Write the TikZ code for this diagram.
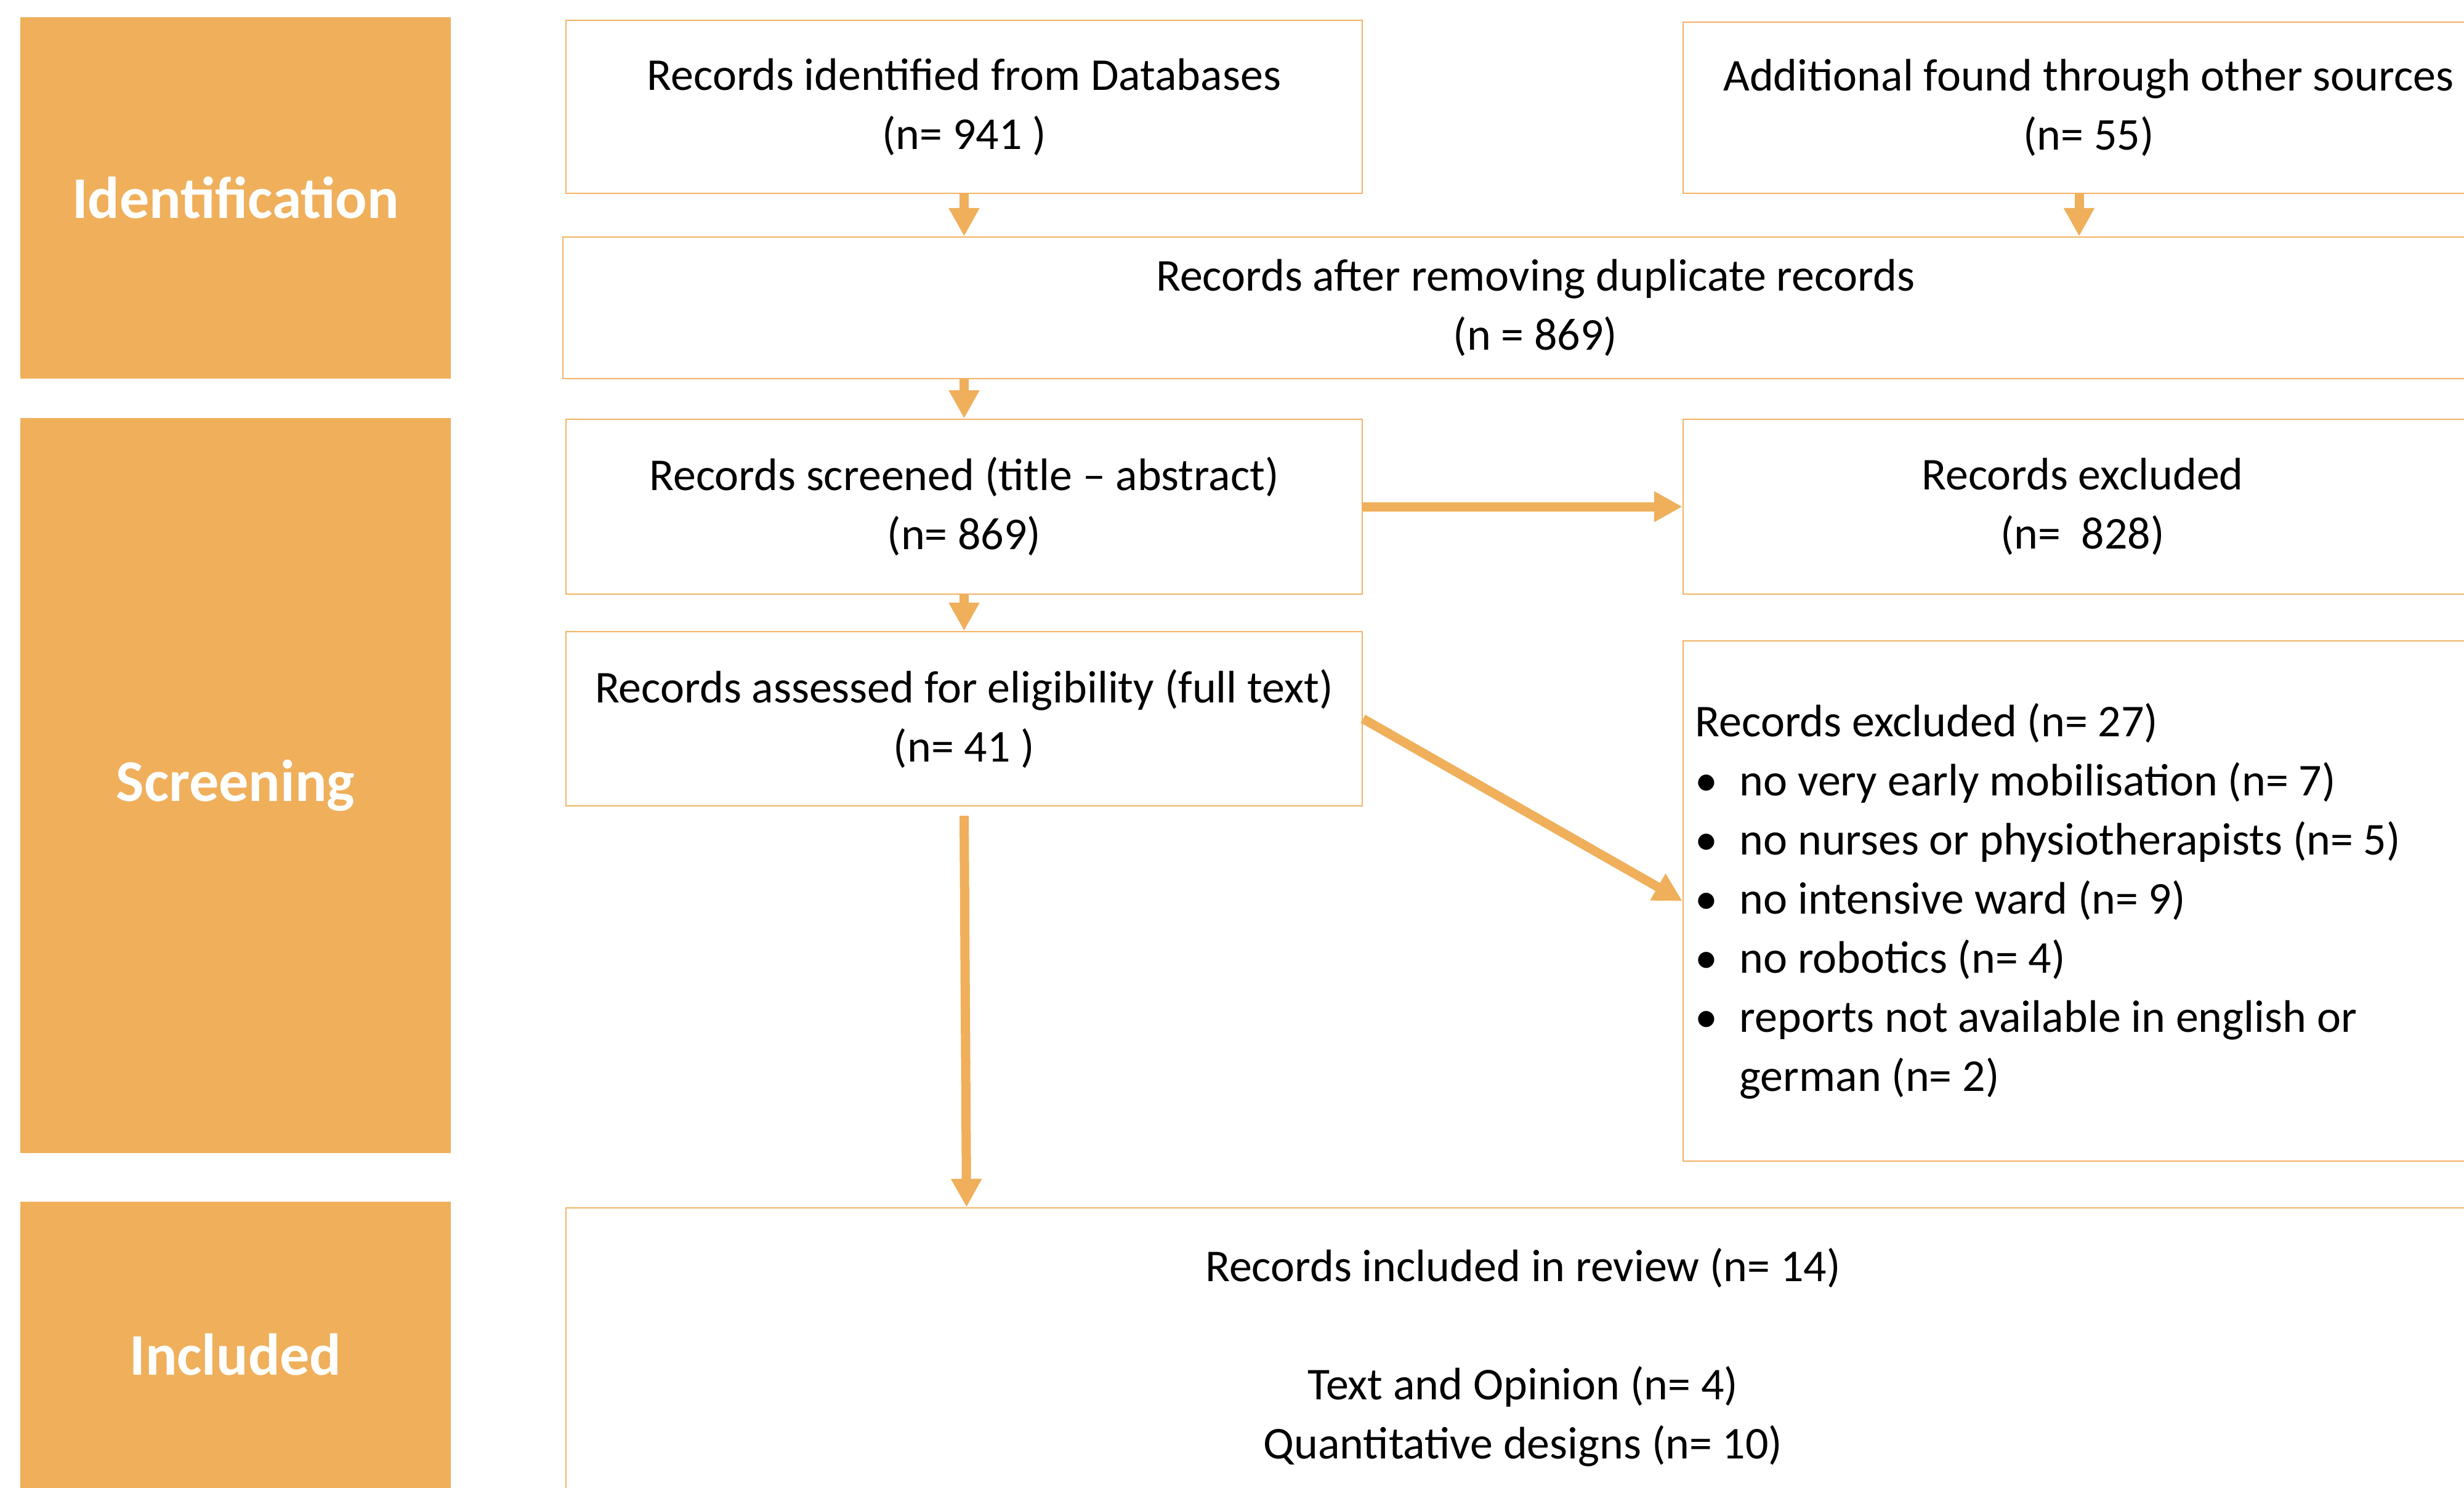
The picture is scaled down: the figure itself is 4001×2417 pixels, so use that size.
\documentclass[tikz,border=0pt]{standalone}
\usepackage{fontspec}
\setmainfont{Carlito}
\usetikzlibrary{arrows.meta,fit,calc}
\definecolor{orng}{RGB}{239,175,91}
\definecolor{bord}{RGB}{242,178,100}
\begin{document}
\begin{tikzpicture}[x=0.25pt,y=-0.25pt,
  phase/.style={fill=orng, draw=none, inner sep=0pt},
  phaselabel/.style={inner sep=0pt, text=white, font=\fontsize{24pt}{29pt}\bfseries\selectfont},
  box/.style={draw=bord, line width=0.6pt, inner sep=0pt},
  txt/.style={inner sep=0pt, align=center, font=\fontsize{18.5pt}{24pt}\selectfont},
  arr/.style={draw=orng, line width=3.75pt, -{Triangle[length=11.5pt,width=11.75pt]}}]
\useasboundingbox (0,0) rectangle (4001,2417);
\clip (0,0) rectangle (4001,2417);
% phase boxes
\node[phase, fit={(33,28)(732,615)}] (pid) {};
\node[phase, fit={(33,679)(732,1873)}] (psc) {};
\node[phase, fit={(33,1952)(732,2448)}] (pin) {};
\node[phaselabel] (pidT) at (pid.center) {Identification};
\node[phaselabel] (pscT) at (psc.center) {Screening};
\node[phaselabel] (pinT) at (pin.center) {Included};
% boxes
\node[box, fit={(919,33)(2212,314)}] (dbs) {};
\node[box, fit={(2733,36)(4050,314)}] (oth) {};
\node[box, fit={(914,385)(4072,615)}] (dup) {};
\node[box, fit={(919,681)(2212,965)}] (scr) {};
\node[box, fit={(2733,681)(4030,965)}] (ex1) {};
\node[box, fit={(919,1026)(2212,1309)}] (elig) {};
\node[box, fit={(2733,1041)(4050,1886)}] (ex2) {};
\node[box, fit={(919,1962)(4027,2448)}] (incl) {};
% texts
\node[txt] (dbsT) at (dbs.center) {Records identified from Databases\\(n= 941 )};
\node[txt] (othT) at (oth.center) {Additional found through other sources\\(n= 55)};
\node[txt] (dupT) at (dup.center) {Records after removing duplicate records\\(n = 869)};
\node[txt] (scrT) at (scr.center) {Records screened (title -- abstract)\\(n= 869)};
\node[txt] (ex1T) at (ex1.center) {Records excluded\\(n= \ 828)};
\node[txt] (eligT) at (elig.center) {Records assessed for eligibility (full text)\\(n= 41 )};
\node[txt, anchor=west, align=left] (ex2T) at ($(ex2.west)+(20,0)$)
 {Records excluded (n= 27)\\
  \makebox[18pt][l]{\textbullet}no very early mobilisation (n= 7)\\
  \makebox[18pt][l]{\textbullet}no nurses or physiotherapists (n= 5)\\
  \makebox[18pt][l]{\textbullet}no intensive ward (n= 9)\\
  \makebox[18pt][l]{\textbullet}no robotics (n= 4)\\
  \makebox[18pt][l]{\textbullet}reports not available in english or\\
  \hspace*{18pt}german (n= 2)};
\node[txt] (inclT) at (incl.center) {Records included in review (n= 14)\\[24pt]Text and Opinion (n= 4)\\Quantitative designs (n= 10)};
% connectors
\coordinate (ox) at (3376,0);
\draw[arr] (dbs.south) -- (dup.north -| dbs.south);
\draw[arr] (oth.south -| ox) -- (dup.north -| ox);
\draw[arr] (dup.south -| scr.north) -- (scr.north);
\draw[arr] (scr.east) -- (ex1.west |- scr.east);
\draw[arr] (scr.south) -- (elig.north);
\draw[arr] (elig.east) -- (ex2.west);
\draw[arr] ($(elig.south)+(0,15)$) -- ($(incl.north -| elig.south)+(4,0)$);
\end{tikzpicture}
\end{document}
